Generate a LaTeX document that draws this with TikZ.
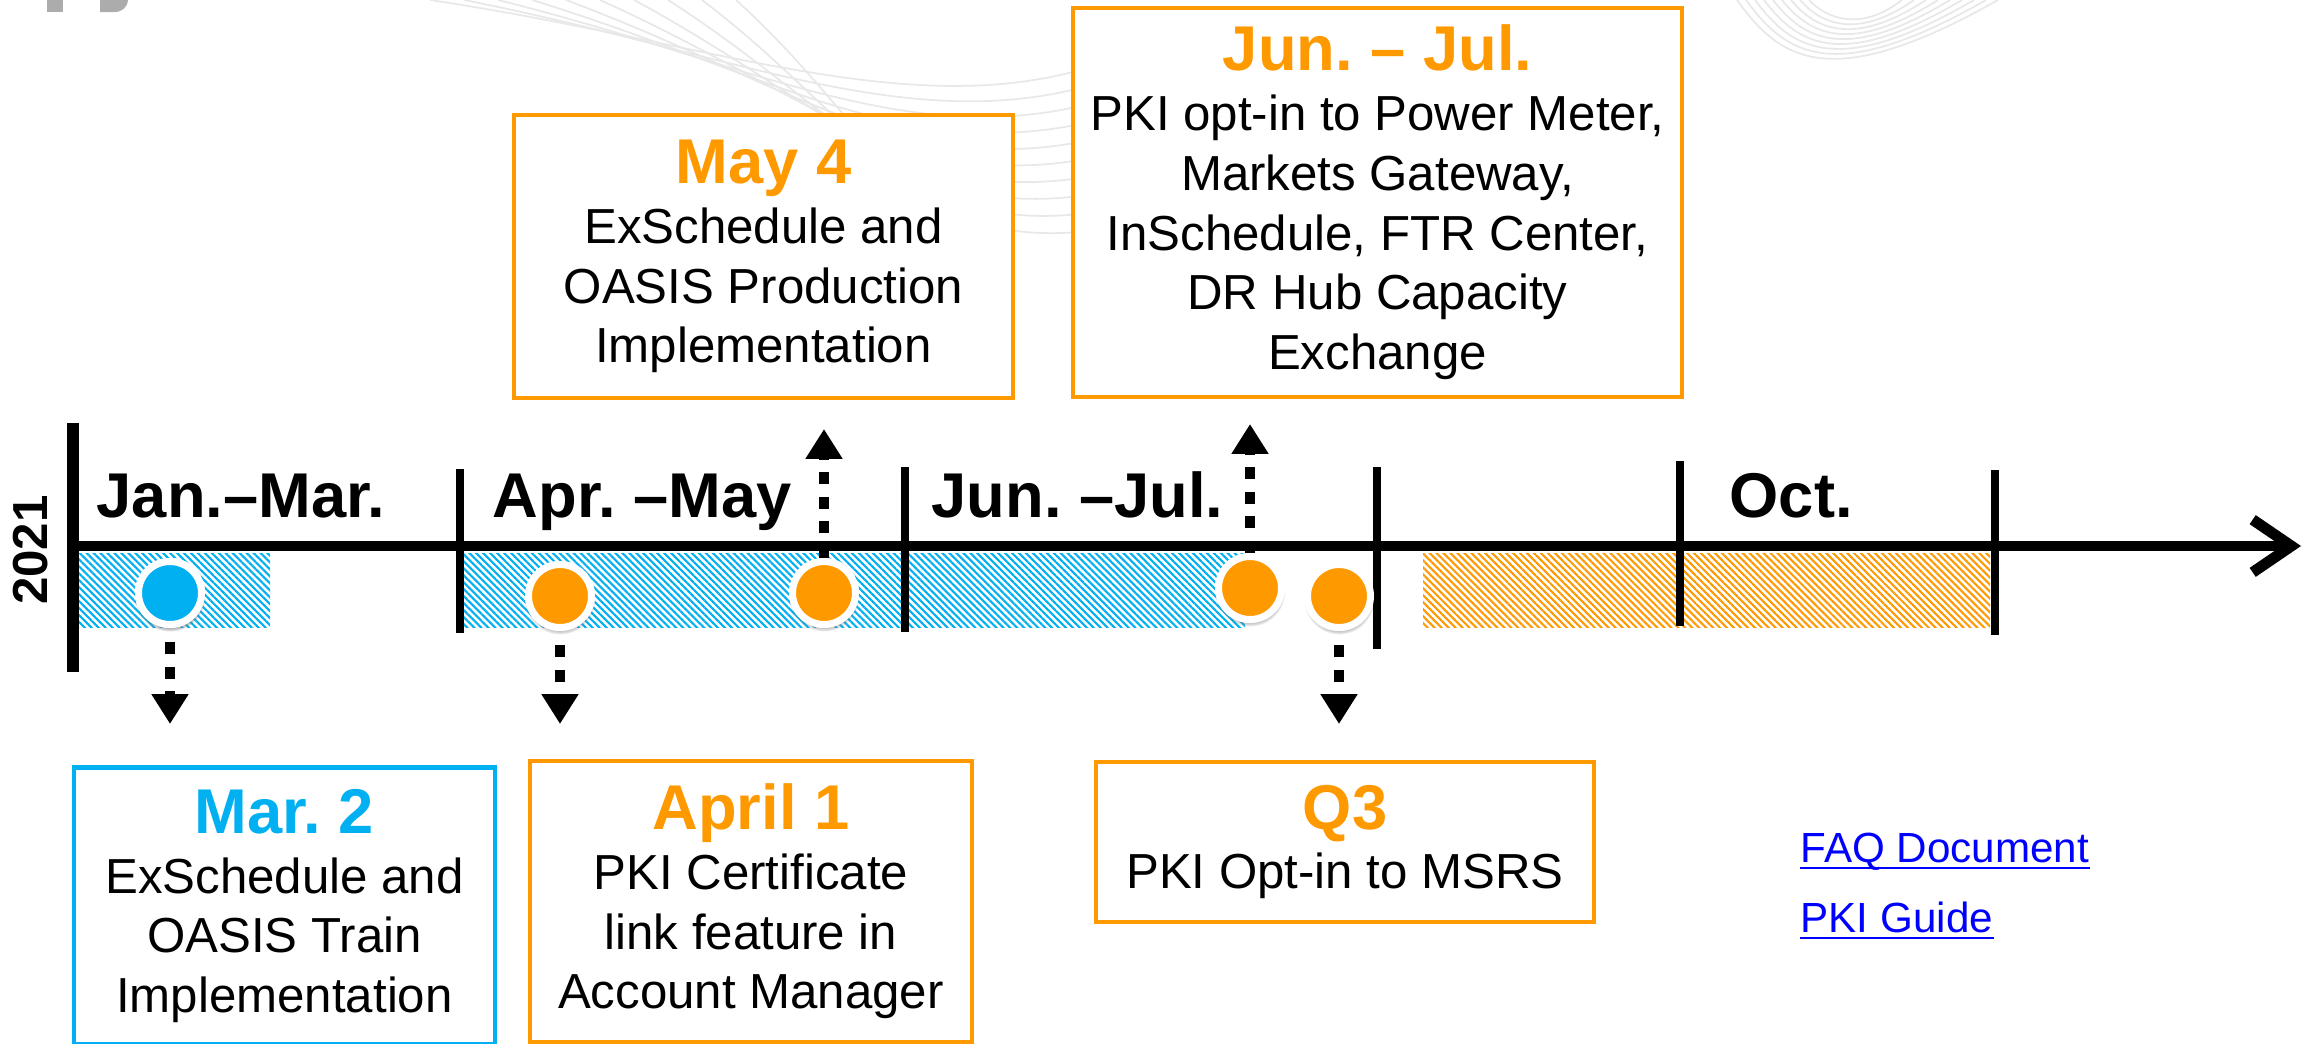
\documentclass[tikz,border=0pt]{standalone}
\usepackage{fontspec}
\setmainfont{Liberation Sans}
\usetikzlibrary{arrows.meta}
\usetikzlibrary{patterns.meta}
\usetikzlibrary{shadows}
\usetikzlibrary{positioning}
\frenchspacing

\definecolor{evorange}{HTML}{FF9900}
\definecolor{evblue}{HTML}{00B0F0}
\definecolor{linkblue}{HTML}{0000FF}

\newcommand{\boxtitle}[2]{{\fontsize{18}{17}\selectfont\bfseries\color{#1}#2}}

\tikzset{
    evbox/.style={draw=evorange, line width=1.4pt, fill=white, inner sep=0pt, align=center,
        font=\fontsize{14}{17}\selectfont},
    axlabel/.style={font=\fontsize{18}{21}\selectfont\bfseries, inner sep=0pt},
    linklabel/.style={font=\fontsize{12}{14}\selectfont, text=linkblue, inner sep=0pt},
    evdot/.style={circle, minimum size=6.3mm, inner sep=0pt, line width=0.7mm, draw=white,
        circular drop shadow={shadow xshift=0mm, shadow yshift=-0.3mm, shadow scale=1.12, opacity=0.35}},
    evarrow/.style={line width=3.1pt, dash pattern=on 3.4pt off 3.6pt,
        -{Triangle[width=10pt,length=8.5pt]}},
    ticker/.style={line width=2.2pt},
    swirl/.style={gray!18, line width=0.5pt},
    hatchblue/.style={pattern={Lines[angle=-45,distance=1.4pt,line width=0.6pt]}, pattern color=evblue},
    hatchorange/.style={pattern={Lines[angle=-45,distance=1.4pt,line width=0.6pt]}, pattern color=evorange}
}

\begin{document}
\begin{tikzpicture}[x=0.1mm,y=-0.1mm]
    \useasboundingbox (0,0) rectangle (2310,1044);

    % faint background swirl and logo corner
    \foreach \i in {0,...,9}
        \draw[swirl] (430+34*\i,0) .. controls (700+20*\i,40+10*\i) and (900,120+14*\i) .. (1080,70+18*\i);
    \foreach \i in {0,...,8}
        \draw[swirl] (1737+9*\i,0) .. controls (1780+6*\i,60-5*\i) and (1830+4*\i,95-8*\i) .. (1998-12*\i,0);
    \fill[gray!65] (47,0) rectangle (63,12);
    \fill[gray!65] (100,0) -- (128,0) .. controls (127,8) and (122,12) .. (114,12) -- (100,12) -- cycle;

    % shaded periods
    \fill[hatchblue] (79,553) rectangle (270,627);
    \fill[hatchblue] (463,553) rectangle (1245,627);
    \fill[hatchorange] (1423,553) rectangle (1990,627);

    % milestones
    \node[evdot, fill=evblue] (c1) at (170,593) {};
    \node[evdot, fill=evorange] (c2) at (560,596) {};
    \node[evdot, fill=evorange] (c3) at (824,593) {};
    \node[evdot, fill=evorange] (c4) at (1250,588) {};
    \node[evdot, fill=evorange] (c5) at (1339,596) {};

    \coordinate (d1) at (170,724);
    \coordinate (d2) at (560,724);
    \coordinate (u3) at (824,429);
    \coordinate (u4) at (1250,424);
    \coordinate (d5) at (1339,724);

    \draw[evarrow, shorten <=1.4mm] (c1.south) -- (d1);
    \draw[evarrow, shorten <=1.4mm] (c2.south) -- (d2);
    \draw[evarrow] (c3.north) -- (u3);
    \draw[evarrow] (c4.north) -- (u4);
    \draw[evarrow, shorten <=1.4mm] (c5.south) -- (d5);

    % time axis
    \draw[line width=3.1pt, -{Straight Barb[length=11pt,width=15pt]}] (73,546) -- (2301,546);
    \draw[line width=3.4pt] (73,423) -- (73,672);
    \foreach \x/\a/\b in {460/469/633, 905/467/632, 1377/467/649, 1680/461/626, 1995/470/635}
        \draw[ticker] (\x,\a) -- (\x,\b);

    % dots again on top of the axis
    \foreach \n in {c1,c2,c3,c4,c5}
        \node[evdot, fill=evorange] at (\n) {};
    \node[evdot, fill=evblue] at (c1) {};

    \node[font=\fontsize{14}{17}\selectfont\bfseries, rotate=90, inner sep=0pt] (year) at (31,550) {2021};
    \node[axlabel, anchor=base west] (janmar) at (96,517) {Jan.--Mar.};
    \node[axlabel, anchor=base west] (aprmay) at (492,517) {Apr. --May};
    \node[axlabel, anchor=base west] (junjul) at (931,517) {Jun. --Jul.};
    \node[axlabel, anchor=base west] (oct) at (1729,517) {Oct.};

    % event boxes
    \node[evbox, draw=evblue, minimum width=42.1mm, minimum height=27.7mm] (mar) at (284.5,906)
        {\boxtitle{evblue}{Mar. 2}\\ExSchedule and\\OASIS Train\\Implementation};
    \node[evbox, minimum width=44.2mm, minimum height=28.1mm] (apr) at (751,901.5)
        {\boxtitle{evorange}{April 1}\\PKI Certificate\\link feature in\\Account Manager};
    \node[evbox, minimum width=49.8mm, minimum height=16mm] (qthree) at (1345,842)
        {\boxtitle{evorange}{Q3}\\PKI Opt-in to MSRS};
    \node[evbox, minimum width=49.9mm, minimum height=28.3mm] (may) at (763.5,256.5)
        {\boxtitle{evorange}{May 4}\\ExSchedule and\\OASIS Production\\Implementation};
    \node[evbox, minimum width=60.9mm, minimum height=38.9mm] (jun) at (1377.5,202.5)
        {\boxtitle{evorange}{Jun. -- Jul.}\\PKI opt-in to Power Meter,\\Markets Gateway,\\InSchedule, FTR Center,\\DR Hub Capacity\\Exchange};

    % links
    \node[linklabel, anchor=base west] (faq) at (1800,862) {FAQ Document};
    \node[linklabel, anchor=base west] (guide) at (1800,932) {PKI Guide};
    \draw[linkblue, line width=0.75pt] ([yshift=-1.7pt]faq.base west) -- ([yshift=-1.7pt]faq.base east);
    \draw[linkblue, line width=0.75pt] ([yshift=-1.7pt]guide.base west) -- ([yshift=-1.7pt]guide.base east);
\end{tikzpicture}
\end{document}
